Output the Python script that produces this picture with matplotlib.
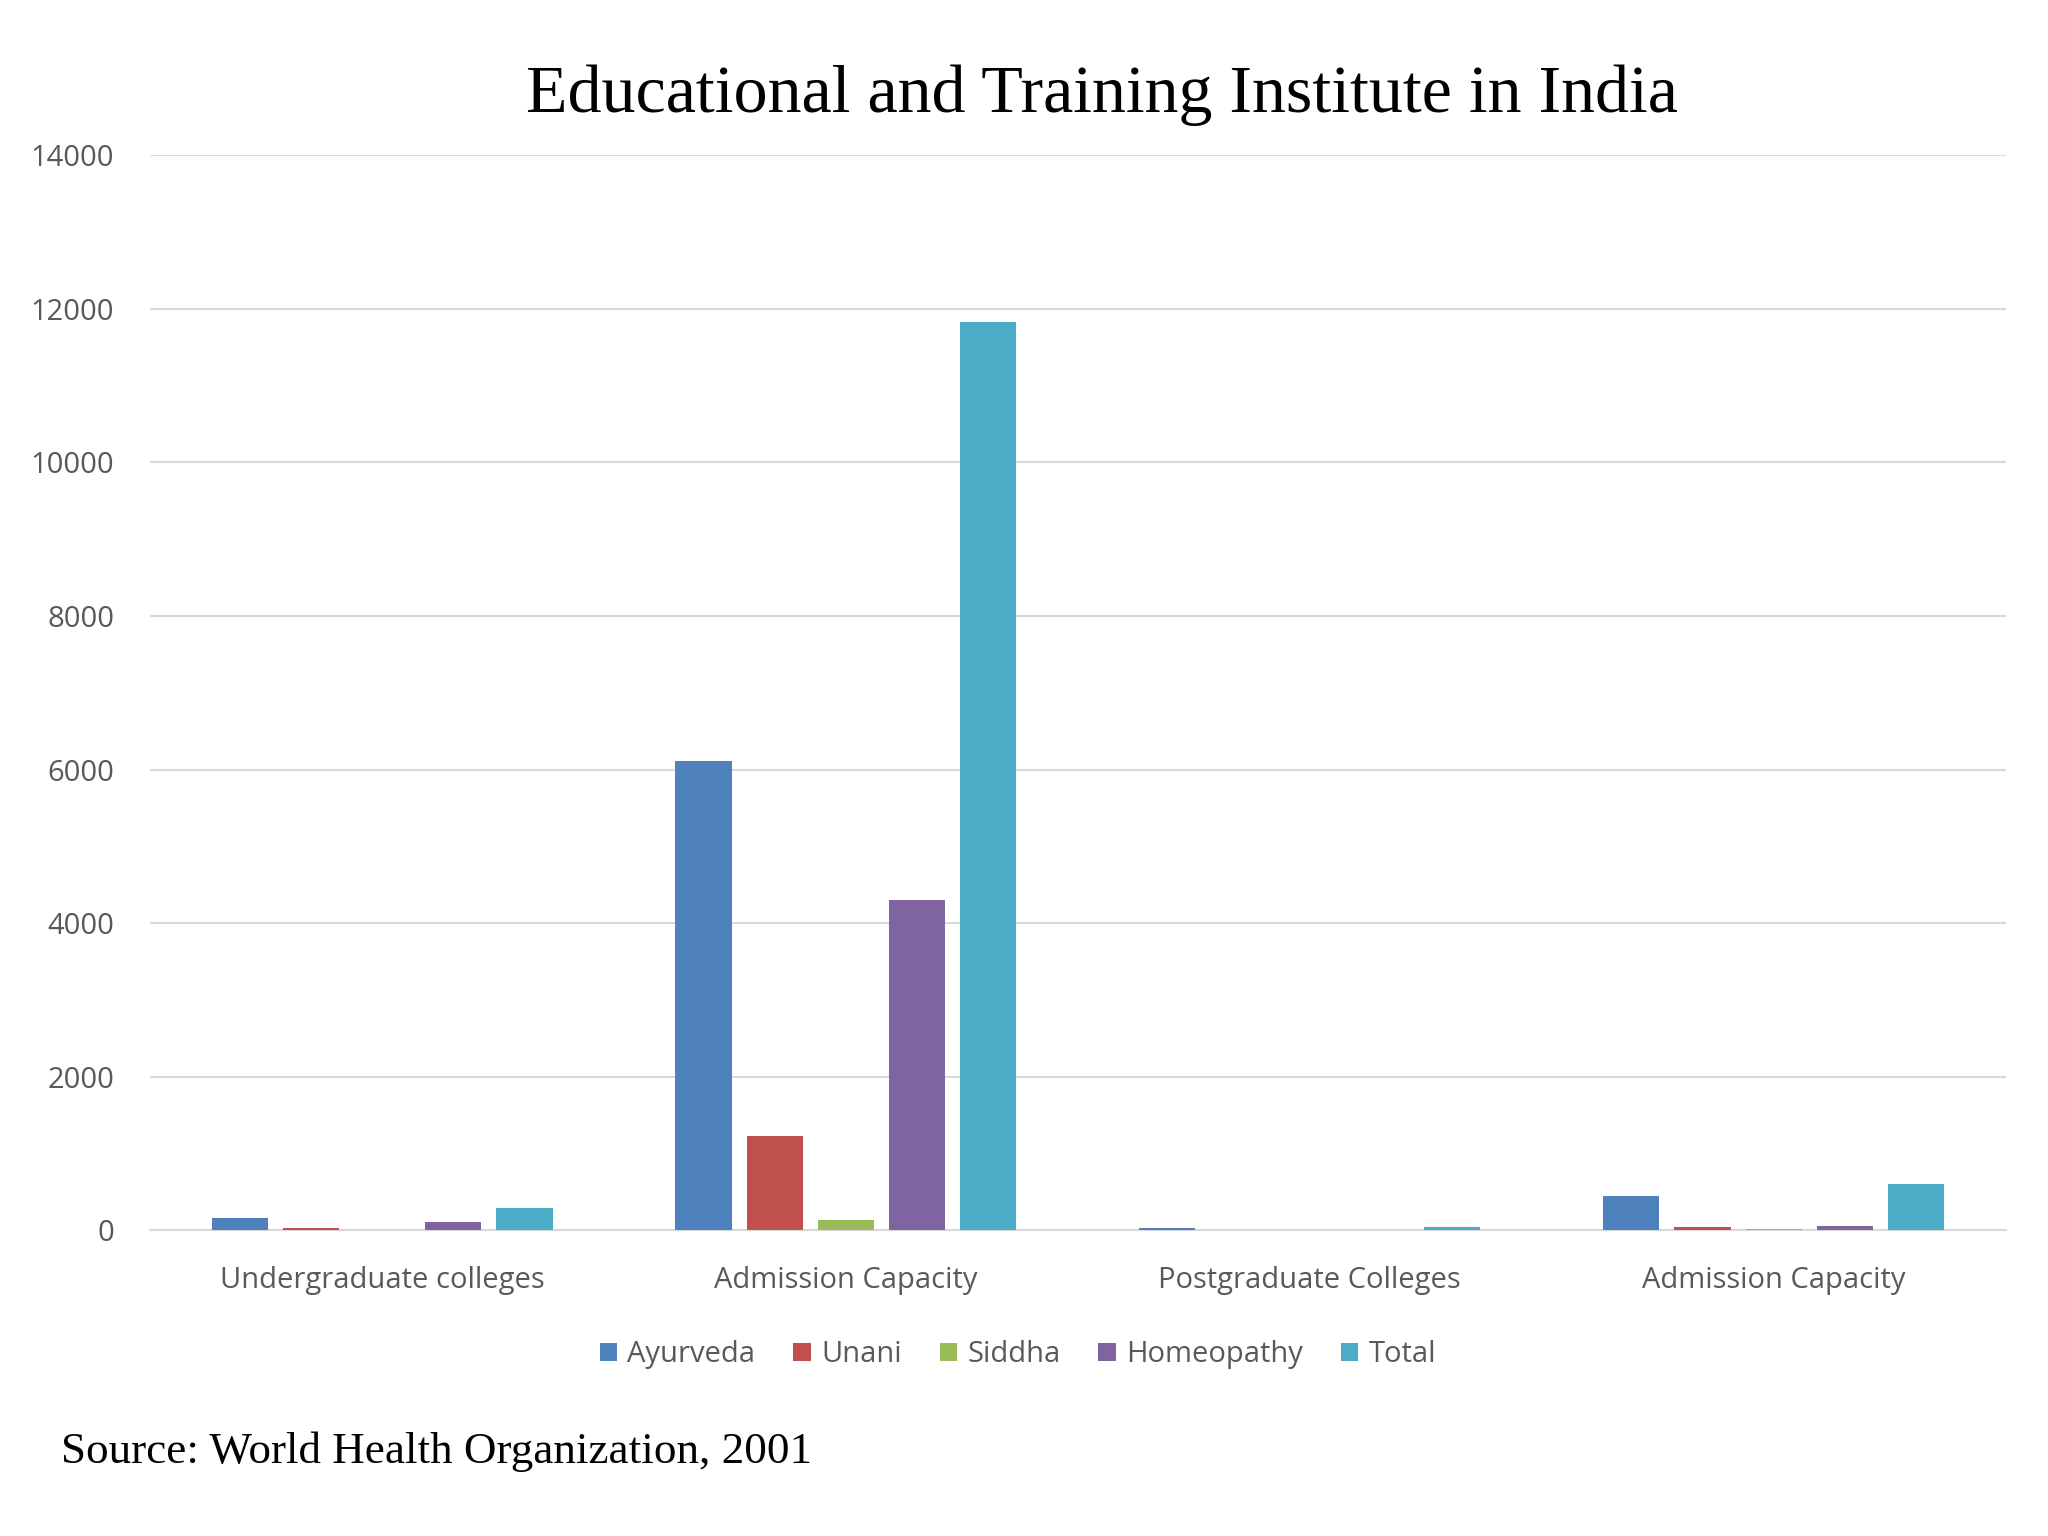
import numpy as np
import matplotlib.pyplot as plt

# categories and series
categories = ["Undergraduate colleges", "Admission Capacity",
              "Postgraduate Colleges", "Admission Capacity"]
series_names = ["Ayurveda", "Unani", "Siddha", "Homeopathy", "Total"]
ayurveda = [155, 6110, 25, 447]
unani = [25, 1225, 3, 39]
siddha = [4, 139, 2, 22]
homeopathy = [110, 4304, 8, 56]
total = [290, 11822, 40, 608]
values = [ayurveda, unani, siddha, homeopathy, total]
colors = ["#4F81BD", "#C0504D", "#9BBB59", "#8064A2", "#4BACC6"]

fig = plt.figure(figsize=(20.48, 15.36), dpi=100)
ax = fig.add_axes([0.0733, 0.199, 0.906, 0.70])

x = np.arange(len(categories)) + 0.5
pitch = 0.1535
width = 0.121
for i, (name, vals) in enumerate(zip(series_names, values)):
    ax.bar(x + (i - 2) * pitch, vals, width, color=colors[i], label=name, zorder=3)

ax.set_xlim(0, 4)
ax.set_ylim(0, 14000)
ax.set_yticks(range(0, 14001, 2000))
ax.set_xticks(x)
ax.set_xticklabels(categories)
ax.grid(axis="y", color="#D9D9D9", linewidth=1.5, zorder=0)
for s in ["top", "right", "left"]:
    ax.spines[s].set_visible(False)
ax.spines["bottom"].set_color("#D9D9D9")
ax.spines["bottom"].set_linewidth(1.5)
ax.tick_params(axis="both", length=0, labelsize=21, labelcolor="#595959")
ax.tick_params(axis="y", pad=26)
ax.tick_params(axis="x", pad=26)
for lbl in ax.get_xticklabels() + ax.get_yticklabels():
    lbl.set_family("Open Sans")

leg = ax.legend(loc="center", bbox_to_anchor=(0.497, 0.118), bbox_transform=fig.transFigure,
                ncol=5, frameon=False, handlelength=0.6, handleheight=0.6,
                handletextpad=0.35, columnspacing=1.3,
                prop={"family": "Open Sans", "size": 21})
for t in leg.get_texts():
    t.set_color("#595959")

fig.text(0.538, 0.938, "Educational and Training Institute in India", ha="center", va="center",
         family="Liberation Serif", fontsize=49)
fig.text(0.030, 0.055, "Source: World Health Organization, 2001", ha="left", va="center",
         family="Liberation Serif", fontsize=32.5)

fig.savefig("out.png", dpi=100)
